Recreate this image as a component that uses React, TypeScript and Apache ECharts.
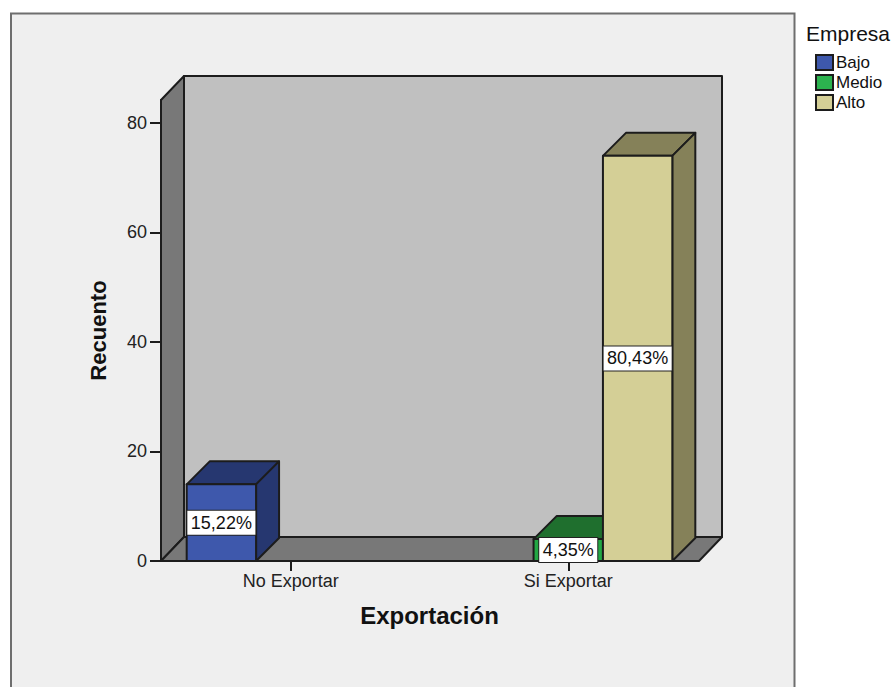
import React, { useEffect, useRef } from "react";
import * as echarts from "echarts";

const categories = ["No Exportar", "Si Exportar"];
const bajoValues = [14, 0];
const medioValues = [0, 4];
const altoValues = [0, 74];
const bajoLabels = ["15,22%", ""];
const medioLabels = ["", "4,35%"];
const altoLabels = ["", "80,43%"];
const yTicks = [0, 20, 40, 60, 80];

const FONT = "'Liberation Sans', Arial, sans-serif";
const INK = "#1c1c1c";
const DEPTH = 23;
const SLOTS = 4;
const AXIS_INSET = 9;
const AXIS_INSET_RIGHT = 8;

// Draws one clustered bar as a front face, a top face, a side face and a boxed label.
function barRenderer(offset: number, front: string, shade: string, labels: string[]) {
  return (params: any, api: any) => {
    const cat = api.value(0);
    const val = api.value(1);
    if (!val) return { type: "group", children: [] };
    const [cx, yTop] = api.coord([cat, val]);
    const [, yBase] = api.coord([cat, 0]);
    const w = api.size([1, 0])[0] / SLOTS;
    const x0 = cx + offset * w - w / 2;
    const x1 = x0 + w;
    const line = { stroke: INK, lineWidth: 2, lineJoin: "round" };
    return {
      type: "group",
      children: [
        {
          type: "polygon",
          shape: { points: [[x0, yTop], [x0 + DEPTH, yTop - DEPTH], [x1 + DEPTH, yTop - DEPTH], [x1, yTop]] },
          style: { fill: shade, ...line },
        },
        {
          type: "polygon",
          shape: { points: [[x1, yTop], [x1 + DEPTH, yTop - DEPTH], [x1 + DEPTH, yBase - DEPTH], [x1, yBase]] },
          style: { fill: shade, ...line },
        },
        {
          type: "rect",
          shape: { x: x0, y: yTop, width: w, height: yBase - yTop },
          style: { fill: front, ...line },
        },
        {
          type: "text",
          x: (x0 + x1) / 2,
          y: (yTop + yBase) / 2,
          style: {
            text: labels[cat],
            font: `18px ${FONT}`,
            fill: "#111111",
            align: "center",
            verticalAlign: "middle",
            backgroundColor: "#ffffff",
            borderColor: "#222222",
            borderWidth: 1,
            padding: [3, 3.5, 3, 3.5],
          },
        },
      ],
    };
  };
}

// Back wall, left wall and floor of the 3D plot box.
function wallsRenderer(params: any) {
  const c = params.coordSys;
  const left = c.x + AXIS_INSET;
  const right = c.x + c.width - AXIS_INSET_RIGHT;
  const top = c.y;
  const bottom = c.y + c.height;
  const line = { stroke: INK, lineWidth: 2, lineJoin: "round" };
  return {
    type: "group",
    children: [
      {
        type: "rect",
        shape: { x: left + DEPTH, y: top - 24, width: right - left, height: bottom - top },
        style: { fill: "#c0c0c0", ...line },
      },
      {
        type: "polygon",
        shape: { points: [[left, top], [left + DEPTH, top - 24], [left + DEPTH, bottom - 24], [left, bottom]] },
        style: { fill: "#787878", ...line },
      },
      {
        type: "polygon",
        shape: { points: [[left, bottom], [left + DEPTH, bottom - 24], [right + DEPTH, bottom - 24], [right, bottom]] },
        style: { fill: "#787878", ...line },
      },
    ],
  };
}

function seriesData(values: number[]) {
  return values.map((v, i) => [i, v]);
}

export default function App() {
  const ref = useRef<HTMLDivElement>(null);

  useEffect(() => {
    const chart = echarts.init(ref.current!, null, { renderer: "svg" });
    chart.setOption({
      animation: false,
      backgroundColor: "#ffffff",
      textStyle: { fontFamily: FONT },
      grid: { left: 152, right: 189, top: 100, bottom: 126 },
      graphic: [
        {
          type: "rect",
          z: -10,
          shape: { x: 11, y: 13.5, width: 783.5, height: 700 },
          style: { fill: "#efefef", stroke: "#6e6e6e", lineWidth: 2 },
        },
        {
          type: "text",
          x: 806,
          y: 33,
          style: {
            text: "Empresa",
            font: `21px ${FONT}`,
            fill: "#111111",
            verticalAlign: "middle",
          },
        },
      ],
      legend: {
        left: 815,
        top: 54,
        padding: 0,
        orient: "vertical",
        icon: "rect",
        itemWidth: 17,
        itemHeight: 15,
        itemGap: 3,
        selectedMode: false,
        data: ["Bajo", "Medio", "Alto"],
        textStyle: {
          fontSize: 17,
          lineHeight: 15,
          color: "#111111",
          fontFamily: FONT,
          padding: [0, 0, 0, -2],
        },
      },
      xAxis: {
        type: "category",
        data: categories,
        name: "Exportación",
        nameLocation: "middle",
        nameGap: 42,
        nameTextStyle: { fontSize: 24, fontWeight: "bold", color: "#111111", fontFamily: FONT },
        axisLine: { show: false },
        axisTick: { show: true, alignWithLabel: true, length: 10, lineStyle: { color: INK, width: 2 } },
        axisLabel: { fontSize: 18, color: "#222222", margin: 11, fontFamily: FONT },
      },
      yAxis: {
        type: "value",
        min: 0,
        max: 84.2,
        interval: 20,
        offset: -AXIS_INSET,
        name: "Recuento",
        nameLocation: "middle",
        nameGap: 52,
        nameRotate: 90,
        nameTextStyle: { fontSize: 22, fontWeight: "bold", color: "#111111", fontFamily: FONT },
        splitLine: { show: false },
        axisLine: { show: true, lineStyle: { color: INK, width: 2 } },
        axisTick: { show: true, length: 11, customValues: yTicks, lineStyle: { color: INK, width: 2 } },
        axisLabel: { fontSize: 18, color: "#222222", margin: 14, customValues: yTicks, fontFamily: FONT },
      },
      series: [
        {
          type: "custom",
          name: "walls",
          silent: true,
          z: 1,
          clip: false,
          renderItem: wallsRenderer,
          data: [[0, 0]],
        },
        {
          type: "custom",
          name: "Bajo",
          z: 2,
          clip: false,
          itemStyle: { color: "#3e58ac", borderColor: INK, borderWidth: 1.5 },
          renderItem: barRenderer(-1, "#3e58ac", "#263770", bajoLabels),
          encode: { x: 0, y: 1 },
          data: seriesData(bajoValues),
        },
        {
          type: "custom",
          name: "Medio",
          z: 3,
          clip: false,
          itemStyle: { color: "#2cb34f", borderColor: INK, borderWidth: 1.5 },
          renderItem: barRenderer(0, "#22a844", "#1f6f2e", medioLabels),
          encode: { x: 0, y: 1 },
          data: seriesData(medioValues),
        },
        {
          type: "custom",
          name: "Alto",
          z: 4,
          clip: false,
          itemStyle: { color: "#d4cf96", borderColor: INK, borderWidth: 1.5 },
          renderItem: barRenderer(1, "#d4cf96", "#858159", altoLabels),
          encode: { x: 0, y: 1 },
          data: seriesData(altoValues),
        },
      ],
    });
    return () => chart.dispose();
  }, []);

  return (
    <div
      ref={ref}
      style={{ position: "absolute", left: 0, top: 0, width: 896, height: 687, overflow: "hidden" }}
    />
  );
}
